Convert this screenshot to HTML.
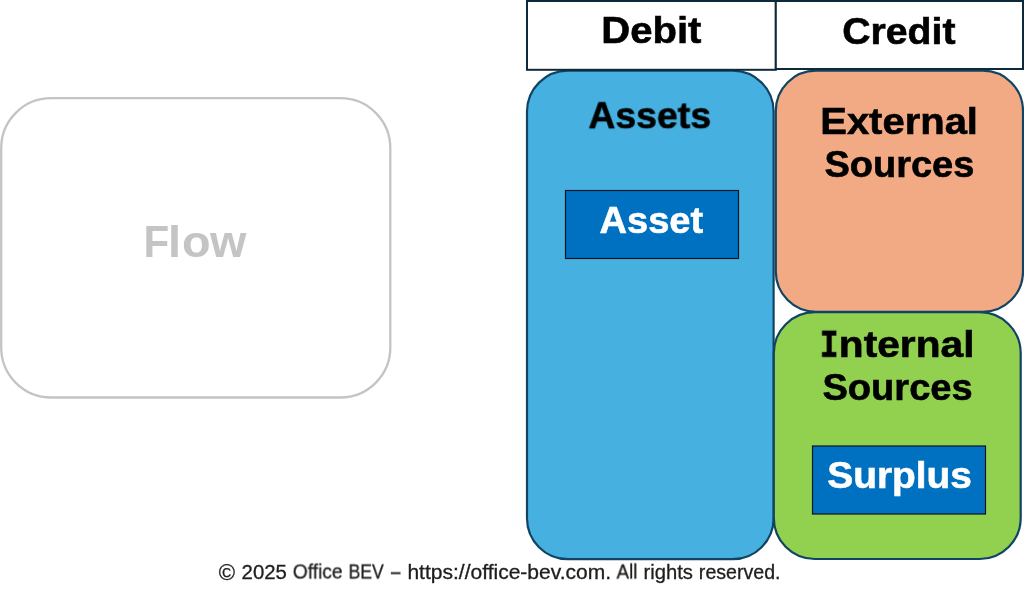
<!DOCTYPE html>
<html>
<head>
<meta charset="utf-8">
<style>
html,body{margin:0;padding:0;background:#fff;width:1024px;height:597px;overflow:hidden;}
body{position:relative;font-family:"Liberation Sans",sans-serif;}
.sv{position:absolute;left:0;top:0;}
.t{position:absolute;white-space:nowrap;font-weight:bold;line-height:1;transform-origin:0 0;will-change:transform;}
.m{font-family:"Liberation Mono",monospace;font-size:36px;margin-right:-3px;}
.bl{display:inline-block;width:0;height:0;}
</style>
</head>
<body>
<svg class="sv" width="1024" height="597" viewBox="0 0 1024 597">
<rect x="1.2" y="98.2" width="389.1" height="299.3" rx="49.9" ry="49.9" fill="#fff" stroke="#c4c4c4" stroke-width="2.3"/>
<rect x="527" y="70.6" width="246.6" height="488.6" rx="41" ry="41" fill="#46b1e1" stroke="#104462" stroke-width="2.2"/>
<rect x="775.8" y="70.7" width="247.2" height="241.1" rx="40.2" ry="40.2" fill="#f2aa84" stroke="#104462" stroke-width="2.2"/>
<rect x="773.8" y="312.2" width="246.9" height="246.8" rx="41" ry="41" fill="#92d050" stroke="#104462" stroke-width="2.2"/>
<rect x="527" y="1" width="248.8" height="68.8" fill="#fff" stroke="#0e2a3a" stroke-width="2"/>
<rect x="775.8" y="1" width="247.2" height="68.0" fill="#fff" stroke="#0e2a3a" stroke-width="2"/>
<rect x="565.5" y="190.5" width="173" height="68" fill="#0070c0" stroke="#0a1620" stroke-width="1.2"/>
<rect x="812.5" y="446" width="173" height="68" fill="#0070c0" stroke="#0a1620" stroke-width="1.2"/>
</svg>
<div class="t" style="left:143px;top:220px;font-size:44.5px;color:#c4c4c4;transform:translate(0.42px,0.20px) scaleX(1.0514);"><span style="display:inline-block;transform:scaleX(0.9);transform-origin:0 0;margin-right:-3.77px">F</span><span style="margin-right:0.95px">l</span><span style="margin-right:-0.7px">o</span>w</div>
<div class="t" style="left:601px;top:12px;font-size:37.8px;color:#000;-webkit-text-stroke:0.6px;transform:translate(0.21px,0.40px) scaleX(1.0598);">Debit</div>
<div class="t" style="left:842px;top:12px;font-size:37.8px;color:#000;-webkit-text-stroke:0.6px;transform:translate(0.22px,0.70px) scaleX(1.0369);">Credit</div>
<div class="t" style="left:588px;top:97px;font-size:37.8px;color:#000;-webkit-text-stroke:0.6px;transform:translate(0.38px,0.20px) scaleX(0.9898);">Assets</div>
<div class="t" style="left:599px;top:202px;font-size:37.8px;color:#fff;-webkit-text-stroke:0.6px;transform:translate(0.53px,0.40px) scaleX(1.0065);">Asset</div>
<div class="t" style="left:820px;top:103px;font-size:37.8px;color:#000;-webkit-text-stroke:0.6px;transform:translate(0.23px,0.20px) scaleX(1.0576);">External</div>
<div class="t" style="left:824px;top:145px;font-size:37.8px;color:#000;-webkit-text-stroke:0.6px;transform:translate(0.48px,0.70px) scaleX(1.0045);">Sources</div>
<div class="t" style="left:819px;top:327px;font-size:38.2px;color:#000;font-family:'Liberation Mono',monospace;-webkit-text-stroke:0.6px;transform:translate(0.90px,0.80px) scaleX(0.8136);">I</div>
<div class="t" style="left:838px;top:325px;font-size:37.8px;color:#000;-webkit-text-stroke:0.6px;transform:translate(0.86px,0.80px) scaleX(1.0761);">nternal</div>
<div class="t" style="left:822px;top:368px;font-size:37.8px;color:#000;-webkit-text-stroke:0.6px;transform:translate(0.45px,0.70px) scaleX(1.0072);">Sources</div>
<div class="t" style="left:827px;top:457px;font-size:37.8px;color:#fff;-webkit-text-stroke:0.6px;transform:translate(0.23px,0.40px) scaleX(1.0279);">Surplus</div>
<div class="t" style="left:218px;top:563px;font-size:21.5px;color:#1e1e1e;font-weight:normal;-webkit-text-stroke:0.3px #1e1e1e;transform:translate(0.66px,0.40px) scaleX(1.0277);">©</div>
<div class="t" style="left:241px;top:562px;font-size:19.5px;color:#1e1e1e;font-weight:normal;-webkit-text-stroke:0.3px #1e1e1e;transform:translate(0.56px,0.50px) scaleX(1.0448);">2025</div>
<div class="t" style="left:292px;top:562px;font-size:19.5px;color:#1e1e1e;font-weight:normal;-webkit-text-stroke:0.3px #1e1e1e;transform:translate(0.76px,0.50px) scaleX(0.9847);">Office</div>
<div class="t" style="left:348px;top:562px;font-size:19.5px;color:#1e1e1e;font-weight:normal;-webkit-text-stroke:0.3px #1e1e1e;transform:translate(0.58px,0.50px) scaleX(0.9011);">BEV</div>
<div class="t" style="left:390px;top:562px;font-size:19.5px;color:#1e1e1e;font-weight:normal;-webkit-text-stroke:0.3px #1e1e1e;transform:translate(0.96px,0.50px) scaleX(0.8742);">–</div>
<div class="t" style="left:407px;top:562px;font-size:19.5px;color:#1e1e1e;font-weight:normal;-webkit-text-stroke:0.3px #1e1e1e;transform:translate(0.40px,0.50px) scaleX(1.0778);">https://office-bev.com.</div>
<div class="t" style="left:616px;top:562px;font-size:19.5px;color:#1e1e1e;font-weight:normal;-webkit-text-stroke:0.3px #1e1e1e;transform:translate(0.54px,0.50px) scaleX(0.9638);">All</div>
<div class="t" style="left:643px;top:562px;font-size:19.5px;color:#1e1e1e;font-weight:normal;-webkit-text-stroke:0.3px #1e1e1e;transform:translate(0.52px,0.50px) scaleX(1.0371);">rights</div>
<div class="t" style="left:698px;top:562px;font-size:19.5px;color:#1e1e1e;font-weight:normal;-webkit-text-stroke:0.3px #1e1e1e;transform:translate(0.86px,0.50px) scaleX(1.0051);">reserved.</div>
</body>
</html>
